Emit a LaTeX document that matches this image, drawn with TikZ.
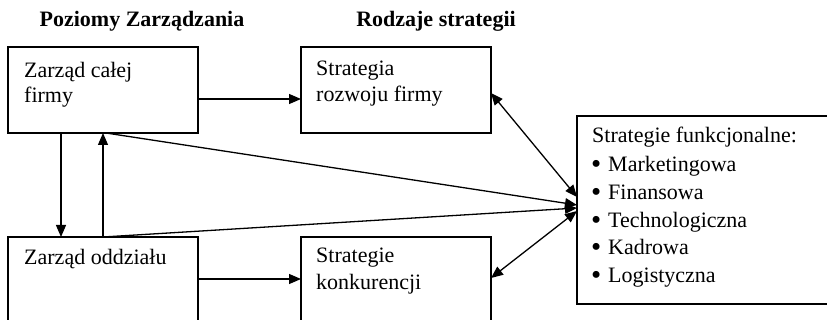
\documentclass[tikz,border=0pt]{standalone}
\usepackage{fontspec}
\setmainfont{Liberation Serif}
\usetikzlibrary{arrows.meta}
\newcommand{\bigbul}{\makebox[17pt][l]{\fontsize{29}{26}\selectfont\raisebox{-1.5pt}{•}}}
\begin{document}
\begin{tikzpicture}[x=1pt,y=-1pt,
  box/.style={draw, line width=1.5pt},
  txt/.style={anchor=base west, inner sep=0pt, font=\fontsize{22}{26}\selectfont},
  ttl/.style={anchor=base, inner sep=0pt, font=\fontsize{22}{26}\selectfont\bfseries},
  conn/.style={line width=1.3pt, -{Triangle[length=12pt,width=10pt]}},
  dconn/.style={line width=1.3pt, {Triangle[length=12pt,width=10pt]}-{Triangle[length=12pt,width=10pt]}}]
\clip (0,0) rectangle (827,320);
\fill[white] (0,0) rectangle (827,320);
% titles
\node[ttl] (t1) at (142,27) {Poziomy Zarządzania};
\node[ttl] (t2) at (436,27) {Rodzaje strategii};
% boxes
\draw[box] (8,47) rectangle (198,133);
\draw[box] (301,47) rectangle (491,133);
\draw[box] (8,237) rectangle (198,340);
\draw[box] (301,237) rectangle (491,340);
\draw[box] (577,116) rectangle (840,304);
% named anchor coordinates
\coordinate (b1e) at (198,99);
\coordinate (b2w) at (301,99);
\coordinate (b3e) at (198,279);
\coordinate (b4w) at (301,279);
\coordinate (b1sA) at (61,133);
\coordinate (b3nA) at (61,237);
\coordinate (b1sB) at (103,133);
\coordinate (b3nB) at (103,237);
\coordinate (b1sC) at (106,133);
\coordinate (b2e) at (491,93);
\coordinate (b4e) at (491,278);
\coordinate (f1) at (577,197);
\coordinate (f2) at (577,205);
\coordinate (f3) at (577,208);
\coordinate (f4) at (577,211);
% texts
\node[txt] (z1) at (24,78) {Zarząd całej};
\node[txt] (z2) at (24,103) {firmy};
\node[txt] (s1) at (316,76) {Strategia};
\node[txt] (s2) at (316,102) {rozwoju firmy};
\node[txt] (o1) at (24,265) {Zarząd oddziału};
\node[txt] (k1) at (316,263) {Strategie};
\node[txt] (k2) at (316,290) {konkurencji};
\node[txt] (f0) at (592,143) {Strategie funkcjonalne:};
\foreach \i/\w/\y in {1/Marketingowa/172,2/Finansowa/200,3/Technologiczna/228,4/Kadrowa/255,5/Logistyczna/283}{
  \node[txt] (fw\i) at (591,\y) {\bigbul\w};
}
% connectors
\draw[conn] (b1e) -- (b2w);
\draw[conn] (b3e) -- (b4w);
\draw[conn] (b1sA) -- (b3nA);
\draw[conn] (b3nB) -- (b1sB);
\draw[conn] (b1sC) -- (f2);
\draw[conn] (b3nB) -- (f3);
\draw[dconn] (b2e) -- (f1);
\draw[dconn] (b4e) -- (f4);
\end{tikzpicture}
\end{document}
